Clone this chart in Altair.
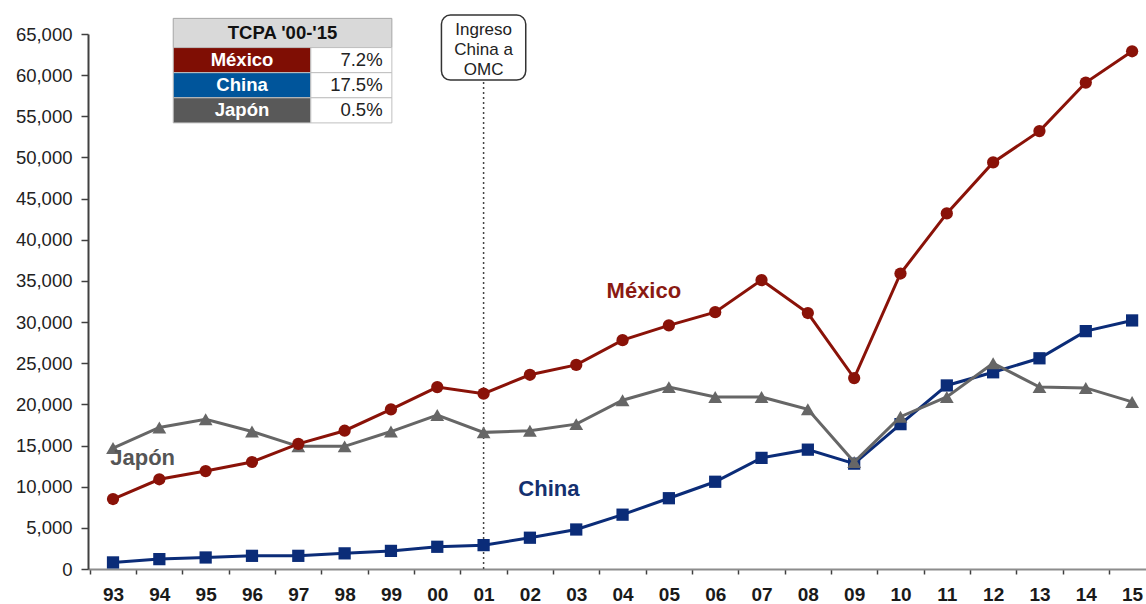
import altair as alt
import pandas as pd

# ---- data -------------------------------------------------------------
years = ["93", "94", "95", "96", "97", "98", "99", "00", "01", "02", "03", "04",
         "05", "06", "07", "08", "09", "10", "11", "12", "13", "14", "15"]

mexico = [8500, 10900, 11900, 13000, 15200, 16800, 19400, 22100, 21300, 23600, 24800, 27800,
          29600, 31200, 35100, 31100, 23200, 35900, 43200, 49400, 53200, 59100, 62900]
china = [800, 1200, 1400, 1600, 1600, 1900, 2200, 2700, 2900, 3800, 4800, 6600,
         8600, 10600, 13500, 14500, 12800, 17600, 22300, 23900, 25600, 28900, 30200]
japon = [14700, 17200, 18200, 16700, 14900, 14900, 16700, 18700, 16600, 16800, 17600, 20500,
         22100, 20900, 20900, 19400, 13000, 18500, 20900, 25000, 22100, 22000, 20300]

series_names = ["México", "China", "Japón"]
tcpa_values = ["7.2%", "17.5%", "0.5%"]
tcpa_header = "TCPA '00-'15"
wto_note = "Ingreso\nChina a\nOMC"
wto_year_index = years.index("01")

# ---- styling -----------------------------------------------------------
FONT = "Liberation Sans"
line_colors = {"México": "#8a1208", "China": "#0b2c78", "Japón": "#666666"}
label_colors = {"México": "#8a1a12", "China": "#14306f", "Japón": "#555555"}
cell_colors = {"México": "#7f0e04", "China": "#00559b", "Japón": "#595959"}
shapes = {"México": ("circle", 150), "China": ("square", 150), "Japón": ("triangle-up", 190)}

W, H = 1058, 535
X_DOMAIN = [-0.54, 22.3]
half_step = W / (X_DOMAIN[1] - X_DOMAIN[0]) / 2

x_scale = alt.Scale(domain=X_DOMAIN, nice=False, zero=False)
y_scale = alt.Scale(domain=[0, 65000], nice=False, zero=True)

labels_js = "[" + ",".join(f"'{y}'" for y in years) + "]"
x_axis = alt.Axis(
    values=list(range(len(years))), labelExpr=f"{labels_js}[datum.value]",
    tickOffset=-half_step, labelOffset=half_step, labelOverlap=False,
    grid=False, title=None, domainColor="#8c8c8c", domainWidth=2,
    tickColor="#404040", tickWidth=1.5, tickSize=5, labelPadding=11,
    labelFont=FONT, labelFontSize=19, labelFontWeight="bold", labelColor="#1a1a1a",
)
y_axis = alt.Axis(
    values=list(range(0, 65001, 5000)), labelExpr="format(datum.value, ',.0f')",
    grid=False, title=None,
    domainColor="#404040", domainWidth=2, tickColor="#404040", tickWidth=1.5,
    tickSize=7, labelPadding=9, labelFont=FONT, labelFontSize=18.5, labelColor="#222222",
)


def X(field):
    return alt.X(field, type="quantitative", scale=x_scale, axis=x_axis)


def Y(field):
    return alt.Y(field, type="quantitative", scale=y_scale, axis=y_axis)


# ---- series lines with markers ------------------------------------------
values = {"México": mexico, "China": china, "Japón": japon}
layers = []

# WTO entry: dotted vertical line from the axis up to the note box
note_bottom, note_top = 59400, 67300
rule_df = pd.DataFrame({"x": [wto_year_index], "y": [0], "y2": [note_bottom]})
layers.append(
    alt.Chart(rule_df).mark_rule(color="#444444", strokeWidth=1.5, strokeDash=[2, 3])
    .encode(x=X("x"), y=Y("y"), y2="y2")
)

for name in ["China", "Japón", "México"]:
    df = pd.DataFrame({"idx": range(len(years)), "year": years, "value": values[name]})
    shape, size = shapes[name]
    layers.append(
        alt.Chart(df).mark_line(
            color=line_colors[name], strokeWidth=3,
            point=alt.OverlayMarkDef(shape=shape, size=size, filled=True,
                                     color=line_colors[name], opacity=1),
        ).encode(x=X("idx"), y=Y("value"))
    )

# ---- direct series labels -------------------------------------------------
lab_df = pd.DataFrame({
    "name": series_names,
    "x": [11.46, 9.41, 0.64],
    "y": [32900, 8870, 12640],
})
for name in series_names:
    layers.append(
        alt.Chart(lab_df[lab_df.name == name]).mark_text(
            font=FONT, fontSize=22, fontWeight="bold", color=label_colors[name],
            align="center", baseline="alphabetic",
        ).encode(x=X("x"), y=Y("y"), text="name:N")
    )

# ---- note box "Ingreso China a OMC" -------------------------------------------
box_df = pd.DataFrame({"x": [wto_year_index - 0.91], "x2": [wto_year_index + 0.91],
                       "y": [note_bottom], "y2": [note_top]})
layers.append(
    alt.Chart(box_df).mark_rect(fill="white", stroke="#333333", strokeWidth=1.5, cornerRadius=9)
    .encode(x=X("x"), x2="x2", y=Y("y"), y2="y2")
)
note_df = pd.DataFrame({"t": [wto_note], "x": [wto_year_index], "y": [64900]})
layers.append(
    alt.Chart(note_df).mark_text(font=FONT, fontSize=17, color="#222222", lineBreak="\n",
                                 lineHeight=20, align="center", baseline="alphabetic")
    .encode(x=X("x"), y=Y("y"), text="t:N")
)

# ---- growth-rate table ------------------------------------------------------
tx0, tx1, tx2 = 1.3, 4.27, 6.02
row_edges = [66900, 63350, 60300, 57250, 54200]

header_df = pd.DataFrame({"x": [tx0], "x2": [tx2], "y": [row_edges[1]], "y2": [row_edges[0]],
                          "t": [tcpa_header], "xc": [(tx0 + tx2) / 2],
                          "yc": [(row_edges[0] + row_edges[1]) / 2]})
layers.append(
    alt.Chart(header_df).mark_rect(fill="#d9d9d9", stroke="#a6a6a6", strokeWidth=1)
    .encode(x=X("x"), x2="x2", y=Y("y"), y2="y2")
)
layers.append(
    alt.Chart(header_df).mark_text(font=FONT, fontSize=18.5, fontWeight="bold", color="#111111",
                                   align="center", baseline="middle")
    .encode(x=X("xc"), y=Y("yc"), text="t:N")
)

rows_df = pd.DataFrame({
    "name": series_names,
    "rate": tcpa_values,
    "y": row_edges[2:],
    "y2": row_edges[1:4],
    "yc": [(row_edges[i] + row_edges[i + 1]) / 2 for i in range(1, 4)],
    "x0": [tx0] * 3, "x1": [tx1] * 3, "x2": [tx2] * 3,
    "xn": [(tx0 + tx1) / 2] * 3, "xv": [tx2 - 0.2] * 3,
})
layers.append(
    alt.Chart(rows_df).mark_rect(stroke="#bfbfbf", strokeWidth=1)
    .encode(x=X("x0"), x2="x1", y=Y("y"), y2="y2",
            color=alt.Color("name:N", legend=None,
                            scale=alt.Scale(domain=series_names,
                                            range=[cell_colors[n] for n in series_names])))
)
layers.append(
    alt.Chart(rows_df).mark_rect(fill="white", stroke="#bfbfbf", strokeWidth=1)
    .encode(x=X("x1"), x2="x2", y=Y("y"), y2="y2")
)
layers.append(
    alt.Chart(rows_df).mark_text(font=FONT, fontSize=18.5, fontWeight="bold", color="white",
                                 align="center", baseline="middle")
    .encode(x=X("xn"), y=Y("yc"), text="name:N")
)
layers.append(
    alt.Chart(rows_df).mark_text(font=FONT, fontSize=18.5, color="#222222",
                                 align="right", baseline="middle")
    .encode(x=X("xv"), y=Y("yc"), text="rate:N")
)

chart = (
    alt.layer(*layers)
    .properties(width=W, height=H,
                autosize=alt.AutoSizeParams(type="none"),
                padding={"left": 88, "top": 34, "right": 0, "bottom": 35},
                background="white")
    .configure_view(strokeWidth=0)
)

chart.save("out.html", embed_options={"renderer": "svg", "actions": False})
